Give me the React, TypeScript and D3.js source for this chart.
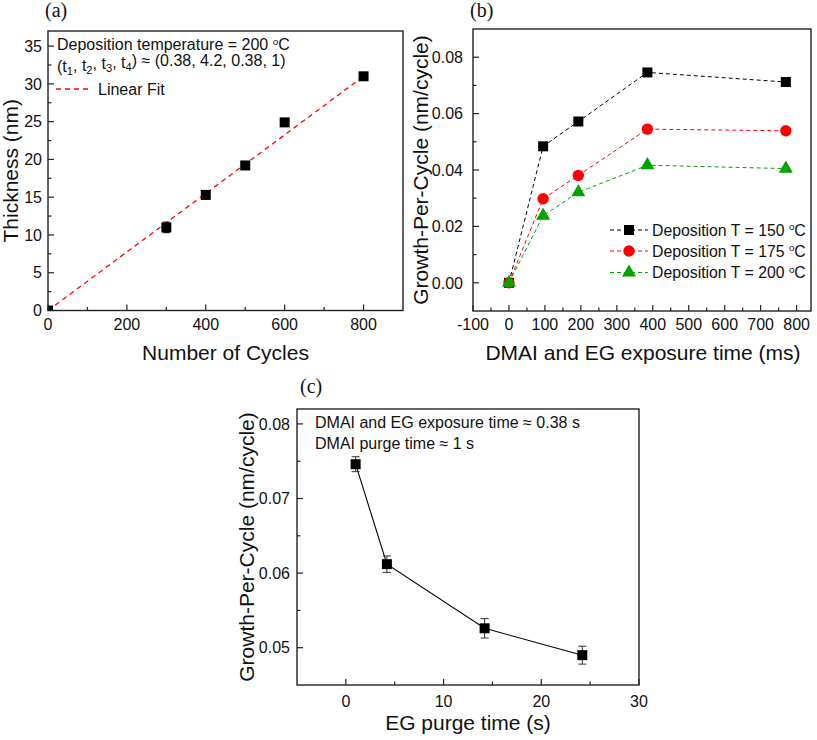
import React from 'react';
import * as d3 from 'd3';

// ---------- Data ----------
// Panel (a)
const cyclesA = [0, 300, 400, 500, 600, 800];
const thicknessA = [0, 11.0, 15.3, 19.2, 24.9, 31.0];
const thicknessErrA = [0.1, 0.7, 0.4, 0.3, 0.4, 0.3];
const fitCyclesA = [0, 800];
const fitThicknessA = [0, 31.0];
const xTicksA = [0, 200, 400, 600, 800];
const xMinorA = [100, 300, 500, 700];
const yTicksA = [0, 5, 10, 15, 20, 25, 30, 35];
const yMinorA = [2.5, 7.5, 12.5, 17.5, 22.5, 27.5, 32.5];

// Panel (b)
const exposureB = [0, 95, 193, 385, 770];
const gpc150 = [0, 0.0484, 0.0572, 0.0746, 0.0712];
const gpc175 = [0, 0.0298, 0.0381, 0.0545, 0.0539];
const gpc200 = [0, 0.0238, 0.0321, 0.0417, 0.0405];
const tempsB = [150, 175, 200];
const xTicksB = [-100, 0, 100, 200, 300, 400, 500, 600, 700, 800];
const xMinorB = [-50, 50, 150, 250, 350, 450, 550, 650, 750];
const yTicksB = [0, 0.02, 0.04, 0.06, 0.08];
const yMinorB = [0.01, 0.03, 0.05, 0.07];

// Panel (c)
const purgeC = [1, 4.2, 14.2, 24.2];
const gpcC = [0.0746, 0.0612, 0.0526, 0.049];
const gpcErrC = [0.001, 0.0011, 0.0013, 0.0012];
const xTicksC = [0, 10, 20, 30];
const xMinorC = [5, 15, 25];
const yTicksC = [0.05, 0.06, 0.07, 0.08];
const yMinorC = [0.055, 0.065, 0.075];

const FONT = "'Liberation Sans', Arial, Helvetica, sans-serif";
const SERIF = "'Liberation Serif', 'Times New Roman', serif";
const AXIS = '#222';
const TICK_FS = 16;
const TITLE_FS = 21;
const NOTE_FS = 16;

type Box = { left: number; right: number; top: number; bottom: number };

function Axes(props: {
  box: Box;
  x: d3.ScaleLinear<number, number>;
  y: d3.ScaleLinear<number, number>;
  xMajor: number[];
  xMinor: number[];
  yMajor: number[];
  yMinor: number[];
  xFmt: (v: number) => string;
  yFmt: (v: number) => string;
  xLabelDy: number;
  yLabelDx: number;
}) {
  const { box, x, y, xMajor, xMinor, yMajor, yMinor, xFmt, yFmt, xLabelDy, yLabelDx } = props;
  const maj = 6;
  const min = 3.5;
  return (
    <g>
      {xMajor.map((v) => (
        <g key={'xM' + v}>
          <line x1={x(v)} x2={x(v)} y1={box.bottom} y2={box.bottom - maj} stroke={AXIS} strokeWidth={1.2} />
          <text x={x(v)} y={box.bottom + xLabelDy} textAnchor="middle" fontSize={TICK_FS} fontFamily={FONT} fill="#111">
            {xFmt(v)}
          </text>
        </g>
      ))}
      {xMinor.map((v) => (
        <line key={'xm' + v} x1={x(v)} x2={x(v)} y1={box.bottom} y2={box.bottom - min} stroke={AXIS} strokeWidth={1.2} />
      ))}
      {yMajor.map((v) => (
        <g key={'yM' + v}>
          <line x1={box.left} x2={box.left + maj} y1={y(v)} y2={y(v)} stroke={AXIS} strokeWidth={1.2} />
          <text x={box.left - yLabelDx} y={y(v)} dy="0.36em" textAnchor="end" fontSize={TICK_FS} fontFamily={FONT} fill="#111">
            {yFmt(v)}
          </text>
        </g>
      ))}
      {yMinor.map((v) => (
        <line key={'ym' + v} x1={box.left} x2={box.left + min} y1={y(v)} y2={y(v)} stroke={AXIS} strokeWidth={1.2} />
      ))}
      <rect
        x={box.left}
        y={box.top}
        width={box.right - box.left}
        height={box.bottom - box.top}
        fill="none"
        stroke={AXIS}
        strokeWidth={1.4}
      />
    </g>
  );
}

function Square({ cx, cy, s, fill }: { cx: number; cy: number; s: number; fill: string }) {
  return <rect x={cx - s / 2} y={cy - s / 2} width={s} height={s} fill={fill} />;
}

function Degree({ value }: { value: number }) {
  return (
    <>
      {value + ' '}
      <tspan fontSize="0.62em" dy="-0.55em">o</tspan>
      <tspan dy="0.34em">C</tspan>
    </>
  );
}

export default function App() {
  // ---------- Panel (a) ----------
  const boxA: Box = { left: 48, right: 403, top: 31, bottom: 310.5 };
  const xA = d3.scaleLinear().domain([0, 900]).range([boxA.left, boxA.right]);
  const yA = d3.scaleLinear().domain([0, 37]).range([boxA.bottom, boxA.top]);
  const fitLine = d3
    .line<number>()
    .x((_, i) => xA(fitCyclesA[i]))
    .y((d) => yA(d))(fitThicknessA) as string;

  // ---------- Panel (b) ----------
  const boxB: Box = { left: 473, right: 811, top: 29, bottom: 311 };
  const xB = d3.scaleLinear().domain([-100, 840]).range([boxB.left, boxB.right]);
  const yB = d3.scaleLinear().domain([-0.01, 0.09]).range([boxB.bottom, boxB.top]);
  const lineB = d3
    .line<number>()
    .x((_, i) => xB(exposureB[i]))
    .y((d) => yB(d));
  const seriesB = [
    { vals: gpc150, color: '#000000', shape: 'square' },
    { vals: gpc175, color: '#ff0000', shape: 'circle' },
    { vals: gpc200, color: '#00a400', shape: 'triangle' },
  ];
  const triPath = d3.symbol().type(d3.symbolTriangle).size(85)() as string;

  const marker = (shape: string, cx: number, cy: number, color: string, key: string) => {
    if (shape === 'square') return <Square key={key} cx={cx} cy={cy} s={10} fill={color} />;
    if (shape === 'circle') return <circle key={key} cx={cx} cy={cy} r={5.7} fill={color} />;
    return <path key={key} d={triPath} transform={`translate(${cx},${cy})`} fill={color} />;
  };

  // ---------- Panel (c) ----------
  const boxC: Box = { left: 297, right: 639, top: 409, bottom: 685 };
  const xC = d3.scaleLinear().domain([-5, 30]).range([boxC.left, boxC.right]);
  const yC = d3.scaleLinear().domain([0.045, 0.082]).range([boxC.bottom, boxC.top]);
  const lineC = d3
    .line<number>()
    .x((_, i) => xC(purgeC[i]))
    .y((d) => yC(d))(gpcC) as string;

  const fmtInt = (v: number) => String(Math.round(v));
  const fmt2 = (v: number) => v.toFixed(2);

  const legendX1 = 610;
  const legendX2 = 648;
  const legendRows = [230, 251, 272.5];

  return (
    <svg
      width={817}
      height={740}
      viewBox="0 0 817 740"
      style={{ position: 'absolute', left: 0, top: 0, background: '#fff' }}
      fontFamily={FONT}
    >
      <rect x={0} y={0} width={817} height={740} fill="#fff" />
      <defs>
        <clipPath id="clipA">
          <rect x={boxA.left} y={boxA.top} width={boxA.right - boxA.left} height={boxA.bottom - boxA.top} />
        </clipPath>
      </defs>

      {/* ===== Panel (a) ===== */}
      <text x={45} y={17} fontFamily={SERIF} fontSize={20} fill="#111">(a)</text>
      <g clipPath="url(#clipA)">
        <path d={fitLine} fill="none" stroke="#ff0000" strokeWidth={1.3} strokeDasharray="5,4" />
        {cyclesA.map((c, i) => {
          const cx = xA(c);
          const cy = yA(thicknessA[i]);
          const e1 = yA(thicknessA[i] + thicknessErrA[i]);
          const e2 = yA(thicknessA[i] - thicknessErrA[i]);
          return (
            <g key={'a' + i}>
              <line x1={cx} x2={cx} y1={e1} y2={e2} stroke="#000" strokeWidth={1} />
              <line x1={cx - 3.5} x2={cx + 3.5} y1={e1} y2={e1} stroke="#000" strokeWidth={1} />
              <line x1={cx - 3.5} x2={cx + 3.5} y1={e2} y2={e2} stroke="#000" strokeWidth={1} />
              <Square cx={cx} cy={cy} s={10} fill="#000" />
            </g>
          );
        })}
      </g>
      <Axes
        box={boxA}
        x={xA}
        y={yA}
        xMajor={xTicksA}
        xMinor={xMinorA}
        yMajor={yTicksA}
        yMinor={yMinorA}
        xFmt={fmtInt}
        yFmt={fmtInt}
        xLabelDy={19}
        yLabelDx={6}
      />
      <text x={57} y={50} fontSize={NOTE_FS} fill="#111">
        Deposition temperature = <Degree value={200} />
      </text>
      <text x={57} y={72} fontSize={NOTE_FS} fill="#111">
        (t<tspan fontSize="0.7em" dy="0.3em">1</tspan>
        <tspan dy="-0.3em">, t</tspan>
        <tspan fontSize="0.7em" dy="0.3em">2</tspan>
        <tspan dy="-0.3em">, t</tspan>
        <tspan fontSize="0.7em" dy="0.3em">3</tspan>
        <tspan dy="-0.3em">, t</tspan>
        <tspan fontSize="0.7em" dy="0.3em">4</tspan>
        <tspan dy="-0.3em">) ≈ (0.38, 4.2, 0.38, 1)</tspan>
      </text>
      <line x1={56} x2={91} y1={89} y2={89} stroke="#ff0000" strokeWidth={1.3} strokeDasharray="5,4" />
      <text x={98} y={94.5} fontSize={NOTE_FS} fill="#111">Linear Fit</text>
      <text x={225.5} y={360} textAnchor="middle" fontSize={TITLE_FS} fill="#111">Number of Cycles</text>
      <text
        transform={`translate(18,${(boxA.top + boxA.bottom) / 2}) rotate(-90)`}
        textAnchor="middle"
        fontSize={TITLE_FS}
        fill="#111"
      >
        Thickness (nm)
      </text>

      {/* ===== Panel (b) ===== */}
      <text x={470} y={17} fontFamily={SERIF} fontSize={20} fill="#111">(b)</text>
      {seriesB.map((s, si) => (
        <g key={'sb' + si}>
          <path d={lineB(s.vals) as string} fill="none" stroke={s.color} strokeWidth={1} strokeDasharray="4,3" />
          {s.vals.map((v, i) => marker(s.shape, xB(exposureB[i]), yB(v), s.color, 'm' + si + '-' + i))}
        </g>
      ))}
      <Axes
        box={boxB}
        x={xB}
        y={yB}
        xMajor={xTicksB}
        xMinor={xMinorB}
        yMajor={yTicksB}
        yMinor={yMinorB}
        xFmt={fmtInt}
        yFmt={fmt2}
        xLabelDy={19}
        yLabelDx={10}
      />
      {seriesB.map((s, si) => (
        <g key={'lg' + si}>
          <line
            x1={legendX1}
            x2={legendX2}
            y1={legendRows[si]}
            y2={legendRows[si]}
            stroke={s.color}
            strokeWidth={1}
            strokeDasharray="4,3"
          />
          {marker(s.shape, (legendX1 + legendX2) / 2, legendRows[si], s.color, 'lm' + si)}
          <text x={652} y={legendRows[si]} dy="0.36em" fontSize={15.8} fill="#111">
            Deposition T = <Degree value={tempsB[si]} />
          </text>
        </g>
      ))}
      <text x={643} y={360} textAnchor="middle" fontSize={TITLE_FS} fill="#111">DMAI and EG exposure time (ms)</text>
      <text
        transform={`translate(428,${(boxB.top + boxB.bottom) / 2}) rotate(-90)`}
        textAnchor="middle"
        fontSize={TITLE_FS}
        fill="#111"
      >
        Growth-Per-Cycle (nm/cycle)
      </text>

      {/* ===== Panel (c) ===== */}
      <text x={300} y={393} fontFamily={SERIF} fontSize={20} fill="#111">(c)</text>
      <path d={lineC} fill="none" stroke="#000" strokeWidth={1.1} />
      {purgeC.map((p, i) => {
        const cx = xC(p);
        const cy = yC(gpcC[i]);
        const e1 = yC(gpcC[i] + gpcErrC[i]);
        const e2 = yC(gpcC[i] - gpcErrC[i]);
        return (
          <g key={'c' + i}>
            <line x1={cx} x2={cx} y1={e1} y2={e2} stroke="#333" strokeWidth={1} />
            <line x1={cx - 4} x2={cx + 4} y1={e1} y2={e1} stroke="#333" strokeWidth={1} />
            <line x1={cx - 4} x2={cx + 4} y1={e2} y2={e2} stroke="#333" strokeWidth={1} />
            <Square cx={cx} cy={cy} s={10} fill="#000" />
          </g>
        );
      })}
      <Axes
        box={boxC}
        x={xC}
        y={yC}
        xMajor={xTicksC}
        xMinor={xMinorC}
        yMajor={yTicksC}
        yMinor={yMinorC}
        xFmt={fmtInt}
        yFmt={fmt2}
        xLabelDy={22}
        yLabelDx={7}
      />
      <text x={315} y={428} fontSize={NOTE_FS} fill="#111">DMAI and EG exposure time ≈ 0.38 s</text>
      <text x={315} y={449} fontSize={NOTE_FS} fill="#111">DMAI purge time ≈ 1 s</text>
      <text x={468} y={730} textAnchor="middle" fontSize={TITLE_FS} fill="#111">EG purge time (s)</text>
      <text
        transform={`translate(254,${(boxC.top + boxC.bottom) / 2}) rotate(-90)`}
        textAnchor="middle"
        fontSize={TITLE_FS}
        fill="#111"
      >
        Growth-Per-Cycle (nm/cycle)
      </text>
    </svg>
  );
}
